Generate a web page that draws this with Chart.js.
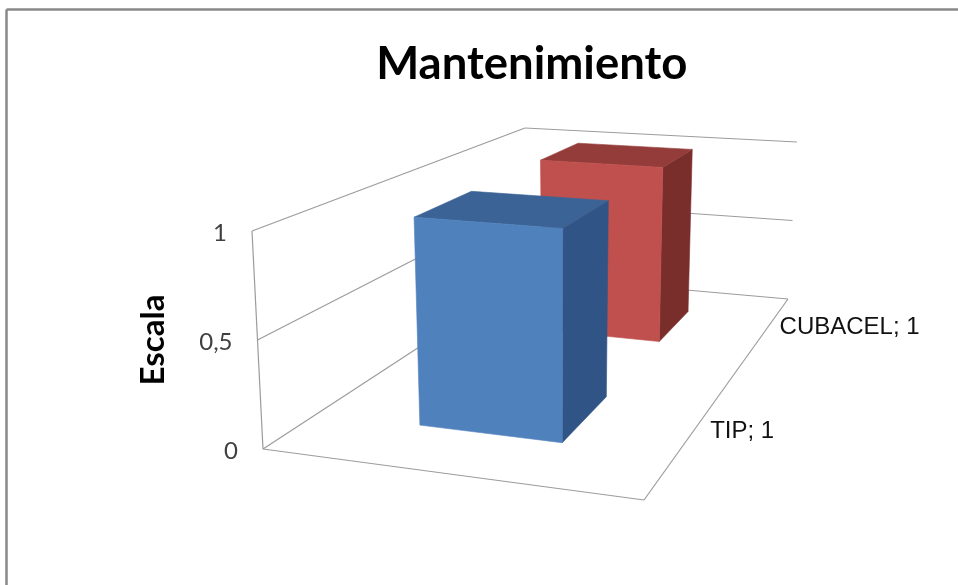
<!DOCTYPE html>
<html>
<head>
<meta charset="utf-8">
<title>Mantenimiento</title>
<script src="https://cdn.jsdelivr.net/npm/chart.js@4"></script>
<style>
  html, body { margin: 0; padding: 0; background: #fff; }
  canvas { display: block; }
</style>
</head>
<body>
<canvas id="chart" width="958" height="585"></canvas>
<script>
const categories = ['TIP', 'CUBACEL'];
const values = [1, 1];
const yTicks = [0, 0.5, 1];

const frontColors = ['#4f81bd', '#c0504d'];
const topColors = ['#3b6395', '#943c3a'];
const sideColors = ['#2f5485', '#7a2e2c'];

// floor and ceiling of the 3D box, order: front-left, front-right, back-right, back-left
const floorQuad = [[263, 449], [644, 500], [788, 299], [528, 276]];
const ceilingQuad = [[252, 231], [650, 264], [797, 142], [525, 128]];

const gridColor = '#9c9c9c';
const frameColor = '#888888';
const depthLabelOffsets = [[17, 0], [17, -7]];

// unit square -> quad
function makeHomography(q) {
  const [x0, y0] = q[0], [x1, y1] = q[1], [x2, y2] = q[2], [x3, y3] = q[3];
  const dx1 = x1 - x2, dx2 = x3 - x2, sx = x0 - x1 + x2 - x3;
  const dy1 = y1 - y2, dy2 = y3 - y2, sy = y0 - y1 + y2 - y3;
  const den = dx1 * dy2 - dx2 * dy1;
  const g = (sx * dy2 - dx2 * sy) / den;
  const h = (dx1 * sy - sx * dy1) / den;
  const a = x1 - x0 + g * x1, b = x3 - x0 + h * x3;
  const d = y1 - y0 + g * y1, e = y3 - y0 + h * y3;
  return (u, v) => {
    const n = g * u + h * v + 1;
    return [(a * u + b * v + x0) / n, (d * u + e * v + y0) / n];
  };
}

const floorMap = makeHomography(floorQuad);
const ceilingMap = makeHomography(ceilingQuad);

// u across, v into the depth, w up
function project(u, v, w) {
  const p0 = floorMap(u, v), p1 = ceilingMap(u, v);
  return [p0[0] + (p1[0] - p0[0]) * w, p0[1] + (p1[1] - p0[1]) * w];
}

function polygon(ctx, pts, fill) {
  ctx.beginPath();
  pts.forEach((p, i) => i ? ctx.lineTo(p[0], p[1]) : ctx.moveTo(p[0], p[1]));
  ctx.closePath();
  ctx.fillStyle = fill;
  ctx.fill();
  ctx.strokeStyle = fill;
  ctx.lineWidth = 0.6;
  ctx.stroke();
}

function line(ctx, a, b) {
  ctx.beginPath();
  ctx.moveTo(a[0], a[1]);
  ctx.lineTo(b[0], b[1]);
  ctx.stroke();
}

// bars keep the library's layout, each one is only drawn as a box
class BoxBarController extends Chart.BarController {
  draw() {
    const ctx = this.chart.ctx;
    const { x: xScale, y: yScale } = this.chart.scales;
    const bars = this._cachedMeta.data;
    const uLeft = 0.5 - 0.5 * 0.4, uRight = 0.5 + 0.5 * 0.4;
    for (let i = bars.length - 1; i >= 0; i--) {
      const bar = bars[i];
      const v0 = (bar.x - bar.width / 2 - xScale.left) / xScale.width;
      const v1 = (bar.x + bar.width / 2 - xScale.left) / xScale.width;
      const w0 = (yScale.bottom - bar.base) / yScale.height;
      const w1 = (yScale.bottom - bar.y) / yScale.height;
      const front = [project(uLeft, v0, w0), project(uRight, v0, w0), project(uRight, v0, w1), project(uLeft, v0, w1)];
      const top = [project(uLeft, v0, w1), project(uRight, v0, w1), project(uRight, v1, w1), project(uLeft, v1, w1)];
      const side = [project(uRight, v0, w0), project(uRight, v1, w0), project(uRight, v1, w1), project(uRight, v0, w1)];
      polygon(ctx, side, sideColors[i]);
      polygon(ctx, top, topColors[i]);
      polygon(ctx, front, frontColors[i]);
    }
  }
}
BoxBarController.id = 'boxBar';
BoxBarController.defaults = Chart.BarController.defaults;
BoxBarController.overrides = Chart.BarController.overrides;
Chart.register(BoxBarController);

const boxWalls = {
  id: 'boxWalls',
  beforeDatasetsDraw(chart) {
    const ctx = chart.ctx;
    const { x: xScale, y: yScale } = chart.scales;
    ctx.save();

    // frame of the chart object, only top and left are in view
    ctx.strokeStyle = frameColor;
    ctx.lineWidth = 2.5;
    line(ctx, [6.5, 585], [6.5, 9.5]);
    line(ctx, [6.5, 9.5], [958, 9.5]);

    ctx.strokeStyle = gridColor;
    ctx.lineWidth = 1.2;
    line(ctx, project(0, 0, 0), project(1, 0, 0));
    line(ctx, project(1, 0, 0), project(1, 1, 0));
    line(ctx, project(0, 0, 0), project(0, 0, 1));
    yScale.ticks.forEach(t => {
      const w = (yScale.bottom - yScale.getPixelForValue(t.value)) / yScale.height;
      line(ctx, project(0, 0, w), project(0, 1, w));
      line(ctx, project(0, 1, w), project(1, 1, w));
    });

    // value labels run along the left wall edge
    ctx.fillStyle = '#404040';
    ctx.font = '24px Lato';
    ctx.textAlign = 'right';
    ctx.textBaseline = 'middle';
    yScale.ticks.forEach(t => {
      const w = (yScale.bottom - yScale.getPixelForValue(t.value)) / yScale.height;
      const p = project(0, 0, w);
      ctx.fillText(t.label, p[0] - 25, p[1] + 2);
    });

    // depth labels next to the right floor edge
    ctx.fillStyle = '#111111';
    ctx.font = '24px "Liberation Sans"';
    ctx.textAlign = 'left';
    categories.forEach((c, i) => {
      const v = (xScale.getPixelForValue(i) - xScale.left) / xScale.width;
      const p = project(1, v, 0);
      ctx.fillText(c + '; ' + values[i], p[0] + depthLabelOffsets[i][0], p[1] + depthLabelOffsets[i][1]);
    });
    ctx.restore();
  }
};

new Chart(document.getElementById('chart'), {
  type: 'boxBar',
  data: {
    labels: categories,
    datasets: [{ data: values, backgroundColor: frontColors, categoryPercentage: 0.4, barPercentage: 1, clip: false }]
  },
  options: {
    responsive: false,
    animation: false,
    layout: { padding: { left: 134, right: 76, top: 0, bottom: 136 } },
    plugins: {
      legend: { display: false },
      tooltip: { enabled: false },
      title: {
        display: true,
        text: 'Mantenimiento',
        fullSize: false,
        color: '#000000',
        font: { family: 'Lato', size: 45.5, weight: 'bold', lineHeight: 1.2 },
        padding: { top: 37, bottom: 139.4 }
      }
    },
    scales: {
      x: { display: false, offset: true },
      y: {
        min: 0,
        max: 1,
        afterBuildTicks(scale) { scale.ticks = yTicks.map(v => ({ value: v })); },
        ticks: { display: false, callback: v => String(v).replace('.', ',') },
        grid: { display: false },
        border: { display: false },
        title: {
          display: true,
          text: 'Escala',
          color: '#000000',
          font: { family: 'Lato', size: 33, weight: 'bold', lineHeight: 1.2 },
          padding: 0
        }
      }
    }
  },
  plugins: [boxWalls]
});
</script>
</body>
</html>
